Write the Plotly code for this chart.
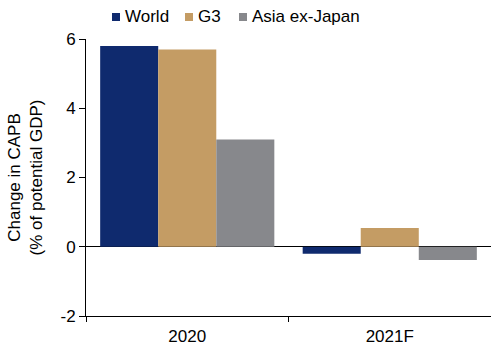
import plotly.graph_objects as go

categories = ["2020", "2021F"]
world = [5.8, -0.2]
g3 = [5.7, 0.54]
asia_ex_japan = [3.1, -0.38]
y_tick_values = [-2, 0, 2, 4, 6]
y_tick_labels = ["-2", "0", "2", "4", "6"]

series = [
    ("World", world, "#0f2a6e"),
    ("G3", g3, "#c49c64"),
    ("Asia ex-Japan", asia_ex_japan, "#87888c"),
]

FONT = "Liberation Sans, Arial, sans-serif"
W, H = 491, 345
ML, MR, MT, MB = 86, 0, 39, 29
PW, PH = W - ML - MR, H - MT - MB


def px_x(px):
    return (px - ML) / PW


def px_y(py):
    return (H - MB - py) / PH


fig = go.Figure()
for name, vals, color in series:
    fig.add_trace(go.Bar(x=categories, y=vals, name=name, marker_color=color,
                         marker_line_width=0, showlegend=False))

# legend row above the plot: small square swatch + label for each series
legend_left = [112, 185, 239]
for (name, _, color), left in zip(series, legend_left):
    fig.add_shape(type="rect", xref="paper", yref="paper",
                  x0=px_x(left), x1=px_x(left + 8), y0=px_y(21), y1=px_y(13),
                  fillcolor=color, line_width=0)
    fig.add_annotation(text=name, xref="paper", yref="paper",
                       x=px_x(left + 11), y=px_y(17), xanchor="left",
                       yanchor="middle", showarrow=False,
                       font=dict(family=FONT, size=17, color="black"))

fig.update_layout(
    width=W, height=H,
    margin=dict(l=ML, r=MR, t=MT, b=MB),
    plot_bgcolor="white", paper_bgcolor="white",
    font=dict(family=FONT, size=17, color="black"),
    barmode="group", bargap=0.14, bargroupgap=0,
)

fig.update_yaxes(
    range=[-2, 6], tickvals=y_tick_values, ticktext=y_tick_labels,
    showgrid=False, showline=True, linecolor="black", linewidth=1,
    ticks="outside", ticklen=6, tickcolor="black",
    zeroline=True, zerolinecolor="black", zerolinewidth=1,
    title=dict(text="Change in CAPB<br>(% of potential GDP)", standoff=13,
               font=dict(size=17)),
)
fig.update_xaxes(
    showgrid=False, showline=True, linecolor="black", linewidth=1,
    ticks="outside", ticklen=5, tickcolor="black", tickson="boundaries",
    ticklabelstandoff=5,
)

fig.write_html("out.html")
